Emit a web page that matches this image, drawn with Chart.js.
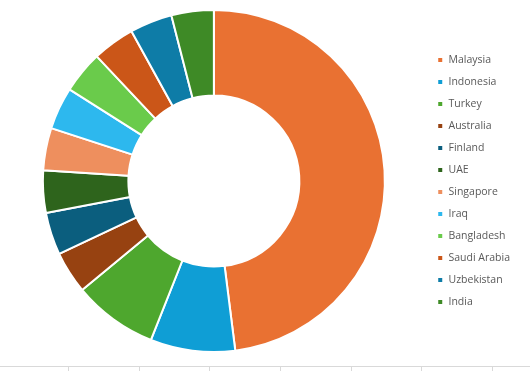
<!DOCTYPE html>
<html>
<head>
<meta charset="utf-8">
<script src="https://cdn.jsdelivr.net/npm/chart.js@4"></script>
<style>
  html, body { margin: 0; padding: 0; background: #fff; }
  #wrap { width: 530px; height: 371px; position: relative; }
</style>
</head>
<body>
<div id="wrap"><canvas id="donutChart"></canvas></div>
<script>
  const countries = ["Malaysia", "Indonesia", "Turkey", "Australia", "Finland", "UAE",
    "Singapore", "Iraq", "Bangladesh", "Saudi Arabia", "Uzbekistan", "India"];
  const counts = [12, 2, 2, 1, 1, 1, 1, 1, 1, 1, 1, 1];
  const sliceColors = ["#E97132", "#0F9ED5", "#4EA72E", "#974211", "#0B5E7E", "#2E641C",
    "#EE8F5E", "#2DB8EE", "#6ACB4B", "#CB5618", "#0E7CA7", "#3E8A26"];
  const axisTicks = 8;

  // stray category axis line along the bottom edge, like the original sheet
  const bottomAxis = {
    id: "bottomAxis",
    afterDraw(chart) {
      const ctx = chart.ctx;
      const w = chart.width;
      const y = chart.height - 4.5;
      ctx.save();
      ctx.strokeStyle = "#d9d9d9";
      ctx.lineWidth = 1;
      ctx.beginPath();
      ctx.moveTo(0, y);
      ctx.lineTo(w, y);
      for (let i = 1; i < axisTicks; i++) {
        const x = Math.round(w * i / 7.5 - 2.7) + 0.5;
        ctx.moveTo(x, y);
        ctx.lineTo(x, y + 5);
      }
      ctx.stroke();
      ctx.restore();
    },
  };

  new Chart(document.getElementById("donutChart"), {
    type: "doughnut",
    data: {
      labels: countries,
      datasets: [
        {
          data: counts,
          backgroundColor: sliceColors,
          borderColor: "#ffffff",
          borderWidth: 2,
        },
      ],
    },
    options: {
      responsive: true,
      maintainAspectRatio: false,
      animation: false,
      cutout: "50%",
      layout: { padding: { left: 2, top: 9, bottom: 18, right: 10 } },
      plugins: {
        tooltip: { enabled: false },
        legend: {
          position: "right",
          labels: {
            boxWidth: 6,
            boxHeight: 6,
            padding: 11.5,
            color: "#595959",
            font: { family: "'Open Sans', sans-serif", size: 10.5 },
          },
        },
      },
    },
    plugins: [bottomAxis],
  });
</script>
</body>
</html>
